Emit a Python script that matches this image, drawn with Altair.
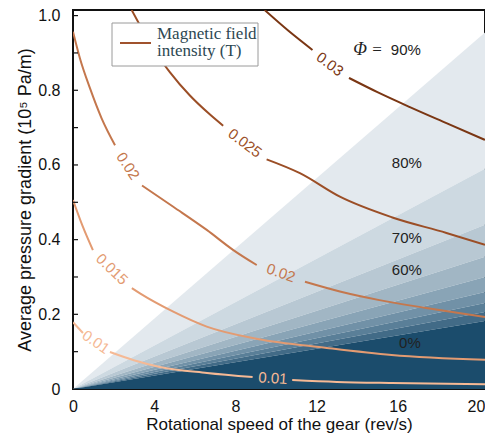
import altair as alt
import pandas as pd

X_MAX = 20.3
Y_MAX = 1.015

# ---- Φ regions (wedges from the origin); value = y of the region's upper boundary at x = X_MAX
phi_regions = ["80%", "70%", "60%", "50%", "40%", "30%", "20%", "10%", "0%"]
boundary_at_right = [0.955, 0.59, 0.44, 0.354, 0.30, 0.26, 0.23, 0.206, 0.182]
region_colors = ["#e3e9ee", "#cdd9e1", "#b8c8d3", "#a1b6c4", "#89a4b6",
                 "#7191a7", "#5a7f98", "#426b87", "#1b4c6c"]

# ---- magnetic field intensity contours (segments broken where inline labels sit)
levels = ["0.01", "0.015", "0.02", "0.025", "0.03"]
level_colors = ["#f5b995", "#e39b72", "#c4774d", "#9b4e26", "#7a3613"]

c_001 = [
    [(0, 0.179), (0.49, 0.150)],
    [(1.82, 0.099), (3.0, 0.077), (4.28, 0.059), (6.6, 0.043), (8.85, 0.032)],
    [(10.8, 0.024), (13.0, 0.019), (15.7, 0.016), (20.3, 0.013)],
]
c_0015 = [
    [(0, 0.506), (0.49, 0.434), (0.98, 0.372)],
    [(2.9, 0.27), (3.3, 0.256), (4.94, 0.207), (6.59, 0.167), (9.1, 0.134),
     (12.5, 0.11), (15.7, 0.091), (20.3, 0.078)],
]
c_002 = [
    [(0, 0.957), (0.34, 0.886), (0.84, 0.805), (1.41, 0.725), (2.07, 0.653)],
    [(3.4, 0.545), (4.94, 0.488), (6.59, 0.426), (7.9, 0.372), (9.05, 0.332)],
    [(11.43, 0.287), (13.15, 0.261), (15.1, 0.238), (17.4, 0.217), (20.3, 0.193)],
]
c_0025 = [
    [(2.89, 1.015), (3.3, 0.974), (4.12, 0.898), (4.78, 0.848), (5.76, 0.786),
     (6.75, 0.735), (7.4, 0.705)],
    [(9.54, 0.615), (11.18, 0.578), (13.15, 0.515), (15.7, 0.46), (18.4, 0.418),
     (20.3, 0.386)],
]
c_003 = [
    [(9.44, 1.015), (10.6, 0.96), (11.8, 0.908)],
    [(13.6, 0.833), (15.0, 0.795), (16.6, 0.755), (18.4, 0.712), (20.3, 0.667)],
]
contours = [c_001, c_0015, c_002, c_0025, c_003]

# inline contour labels
clabel_text = ["0.01", "0.01", "0.015", "0.02", "0.02", "0.025", "0.03"]
clabel_level = ["0.01", "0.01", "0.015", "0.02", "0.02", "0.025", "0.03"]
clabel_x = [1.13, 9.85, 1.92, 2.71, 10.25, 8.47, 12.66]
clabel_y = [0.126, 0.029, 0.321, 0.597, 0.311, 0.659, 0.870]
clabel_angle = [35, 4, 44, 57, 19, 37, 37]

# Φ annotations
phi_text = ["80%", "70%", "60%", "0%"]
phi_x = [16.45, 16.45, 16.45, 16.6]
phi_y = [0.605, 0.404, 0.319, 0.123]

y_tick_values = [0.1, 0.2, 0.3, 0.4, 0.5, 0.6, 0.7, 0.8, 0.9, 1.0]

# ---------------- build tables
wedge_rows = []
for i, name in enumerate(phi_regions):
    hi = boundary_at_right[i]
    lo = boundary_at_right[i + 1] if i + 1 < len(boundary_at_right) else 0.0
    wedge_rows.append({"region": name, "x": 0.0, "hi": 0.0, "lo": 0.0})
    wedge_rows.append({"region": name, "x": X_MAX, "hi": hi, "lo": lo})
wedges = pd.DataFrame(wedge_rows)

line_rows = []
for lev, segs in zip(levels, contours):
    for si, seg in enumerate(segs):
        for (xv, yv) in seg:
            line_rows.append({"level": lev, "seg": f"{lev}-{si}", "x": xv, "y": yv})
lines = pd.DataFrame(line_rows)

clabels = pd.DataFrame({"text": clabel_text, "level": clabel_level, "x": clabel_x,
                        "y": clabel_y, "angle": clabel_angle})
phis = pd.DataFrame({"text": phi_text, "x": phi_x, "y": phi_y})
phi90 = pd.DataFrame({"x": [14.14], "y": [0.908]})
eq90 = pd.DataFrame({"x": [14.98], "y": [0.908]})
pct90 = pd.DataFrame({"x": [16.40], "y": [0.908]})
yticks = pd.DataFrame({"y": y_tick_values})
one = pd.DataFrame({"a": [0]})

xs = alt.Scale(domain=[0, X_MAX], nice=False, zero=False)
ys = alt.Scale(domain=[0, Y_MAX], nice=False, zero=False)

x_axis = alt.Axis(values=[0, 4, 8, 12, 16, 20], title="Rotational speed of the gear (rev/s)",
                  labelFontSize=16, titleFontSize=17, labelPadding=9, titlePadding=2,
                  labelFlush=False,
                  labelAlign={"condition": {"test": "datum.value == 20", "value": "right"},
                              "value": "center"},
                  labelOffset={"condition": {"test": "datum.value == 20", "value": 6},
                               "value": 0})
y_axis = alt.Axis(values=[0, 0.2, 0.4, 0.6, 0.8, 1.0],
                  labelExpr="datum.value == 0 ? '0' : format(datum.value, '.1f')",
                  title="Average pressure gradient (10⁵ Pa/m)",
                  labelFontSize=16, titleFontSize=18, labelPadding=13, titlePadding=3)

wedge_layer = alt.Chart(wedges).mark_area(clip=True, opacity=1).encode(
    x=alt.X("x:Q", scale=xs, axis=x_axis),
    y=alt.Y("hi:Q", scale=ys, axis=y_axis),
    y2="lo:Q",
    color=alt.Color("region:N", scale=alt.Scale(domain=phi_regions, range=region_colors),
                    legend=None),
)

level_scale = alt.Scale(domain=levels, range=level_colors)

line_layer = alt.Chart(lines).mark_line(clip=True, strokeWidth=2, interpolate="monotone").encode(
    x=alt.X("x:Q", scale=xs),
    y=alt.Y("y:Q", scale=ys),
    detail="seg:N",
    stroke=alt.Stroke("level:N", scale=level_scale, legend=None),
)

clabel_layer = alt.Chart(clabels).mark_text(font="Liberation Sans", fontSize=15,
                                            align="center", baseline="middle").encode(
    x=alt.X("x:Q", scale=xs),
    y=alt.Y("y:Q", scale=ys),
    text="text:N",
    angle=alt.Angle("angle:Q", scale=None),
    fill=alt.Fill("level:N", scale=level_scale, legend=None),
)

phi_layer = alt.Chart(phis).mark_text(font="Liberation Sans", fontSize=15, color="#222",
                                      align="center", baseline="middle").encode(
    x=alt.X("x:Q", scale=xs), y=alt.Y("y:Q", scale=ys), text="text:N")

phi_sym = alt.Chart(phi90).mark_text(text="Φ", font="Liberation Serif", fontStyle="italic",
                                     fontSize=18, color="#222", align="center",
                                     baseline="middle").encode(
    x=alt.X("x:Q", scale=xs), y=alt.Y("y:Q", scale=ys))
phi_eq = alt.Chart(eq90).mark_text(text="=", font="Liberation Serif", fontSize=17,
                                   color="#222", align="center", baseline="middle").encode(
    x=alt.X("x:Q", scale=xs), y=alt.Y("y:Q", scale=ys))
phi_pct = alt.Chart(pct90).mark_text(text="90%", font="Liberation Sans", fontSize=15,
                                     color="#222", align="center", baseline="middle").encode(
    x=alt.X("x:Q", scale=xs), y=alt.Y("y:Q", scale=ys))

tick_layer = alt.Chart(yticks).mark_rule(color="#111", strokeWidth=1.2).encode(
    y=alt.Y("y:Q", scale=ys), x=alt.value(0), x2=alt.value(5))

legend_box = alt.Chart(one).mark_rect(fill="white", stroke="#9a9a9a", strokeWidth=1).encode(
    x=alt.value(39), x2=alt.value(185), y=alt.value(13), y2=alt.value(56))
legend_line = alt.Chart(one).mark_rule(color="#a0522d", strokeWidth=2).encode(
    x=alt.value(47), x2=alt.value(78), y=alt.value(33))
legend_t1 = alt.Chart(one).mark_text(text="Magnetic field", font="Liberation Serif",
                                     fontSize=17, color="#2d4752", align="left",
                                     baseline="alphabetic").encode(
    x=alt.value(84), y=alt.value(29))
legend_t2 = alt.Chart(one).mark_text(text="intensity (T)", font="Liberation Serif",
                                     fontSize=17, color="#2d4752", align="left",
                                     baseline="alphabetic").encode(
    x=alt.value(84), y=alt.value(46))

chart = alt.layer(
    wedge_layer, line_layer, clabel_layer, phi_layer, phi_sym, phi_eq, phi_pct,
    tick_layer, legend_box, legend_line, legend_t1, legend_t2,
).properties(
    width=412, height=379,
    autosize=alt.AutoSizeParams(type="none"),
    padding={"left": 65, "top": 2, "right": 0, "bottom": 44},
).configure_view(
    stroke="#111", strokeWidth=2,
).configure_axis(
    grid=False, domain=False, ticks=False,
    labelFont="Liberation Sans", titleFont="Liberation Sans",
    labelColor="#111", titleColor="#111", titleFontWeight="normal",
)

chart.save("out.html", embed_options={"renderer": "svg", "actions": False})
